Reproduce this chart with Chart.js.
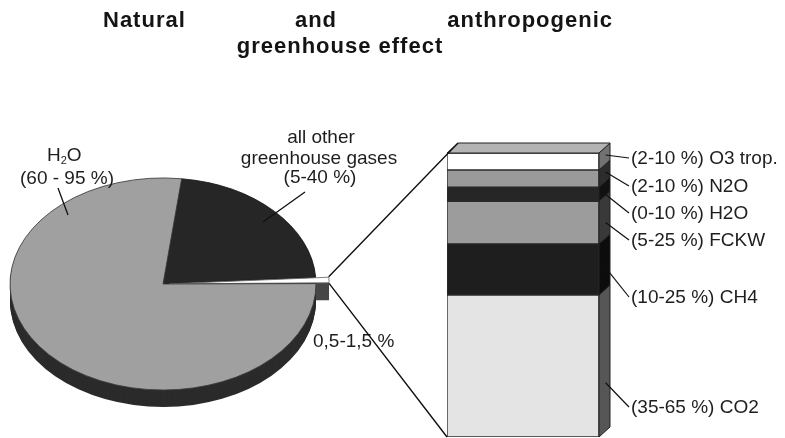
<!DOCTYPE html>
<html>
<head>
<meta charset="utf-8">
<script src="https://cdn.jsdelivr.net/npm/chart.js@4.4.1/dist/chart.umd.min.js"></script>
<style>
  html, body { margin: 0; padding: 0; background: #ffffff; }
  #wrap { position: relative; width: 785px; height: 438px; overflow: hidden; background: #ffffff; }
  #wrap canvas { position: absolute; left: 0; top: 0; }
</style>
</head>
<body>
<div id="wrap">
  <canvas id="pie" width="785" height="438"></canvas>
  <canvas id="bar" width="785" height="438"></canvas>
</div>
<script>
// Greenhouse effect: natural vs. anthropogenic share, and the split of the anthropogenic part
const pieParts = ['all other greenhouse gases', 'anthropogenic', 'H2O'];
const pieShares = [22, 1, 77];

const gases = ['CO2', 'CH4', 'FCKW', 'H2O', 'N2O', 'O3 trop.'];
const gasShares = [50, 18, 15, 5, 6, 6];
const gasRanges = ['35-65 %', '10-25 %', '5-25 %', '0-10 %', '2-10 %', '2-10 %'];

const titleWords = ['Natural', 'and', 'anthropogenic'];
const titleLine2 = 'greenhouse effect';

// ---- styling / layout ----
const FONT = '"Liberation Sans", Arial, Helvetica, sans-serif';
const INK = '#1e1e1e';

const pieCenter = { x: 163, y: 284 };
const pieRadius = 153;
const squash = 0.693;          // vertical flattening of the disc
const pieDepth = 17;           // thickness of the disc wall
const pieTopColors = ['#262626', '#ffffff', '#a0a0a0'];
const pieEdgeColors = ['#1a1a1a', '#6a6a6a', '#3a3a3a'];
const pieSideColors = ['#222222', '#474747', '#2b2b2b'];

const barFront = ['#e4e4e4', '#1e1e1e', '#9c9c9c', '#262626', '#9a9a9a', '#ffffff'];
const barSide = ['#565656', '#0c0c0c', '#393939', '#111111', '#2c2c2c', '#727272'];
const barTopFace = '#b4b4b4';
const depthX = 11, depthY = 10;
const labelY = [407, 297, 240, 213, 186, 158];
const leaderAt = [0.66, 0.58, 0.64, 0.95, 0.47, 0.47];
const labelX = 631;

// translation applied by ArcElement for an exploded slice
function explodeShift(arc) {
  const p = arc.getProps(['startAngle', 'endAngle'], true);
  const off = (arc.options.offset || 0) / 4;
  const half = (p.startAngle + p.endAngle) / 2;
  const fix = 1 - Math.sin(Math.min(Math.PI, p.endAngle - p.startAngle));
  const total = off * (1 + fix);
  return { x: Math.cos(half) * total, y: Math.sin(half) * total };
}

function squashAround(ctx, cy, dy) {
  ctx.translate(0, cy + dy);
  ctx.scale(1, squash);
  ctx.translate(0, -cy);
}

const pie3d = {
  id: 'pie3d',
  beforeDatasetsDraw(chart) {
    const ctx = chart.ctx;
    const arcs = chart.getDatasetMeta(0).data;
    const cy = arcs[0].y;
    // disc wall: every sector repeated downward in the wall colour
    for (let d = pieDepth; d >= 1; d--) {
      arcs.forEach((arc, i) => {
        const p = arc.getProps(['x', 'y', 'startAngle', 'endAngle', 'outerRadius'], true);
        const s = explodeShift(arc);
        ctx.save();
        squashAround(ctx, cy, d);
        ctx.beginPath();
        ctx.moveTo(p.x + s.x, p.y + s.y);
        ctx.arc(p.x + s.x, p.y + s.y, p.outerRadius, p.startAngle, p.endAngle);
        ctx.closePath();
        ctx.fillStyle = pieSideColors[i];
        ctx.fill();
        ctx.restore();
      });
    }
    ctx.save();
    squashAround(ctx, cy, 0);
  },
  afterDatasetsDraw(chart) {
    const ctx = chart.ctx;
    ctx.restore();

    ctx.save();
    ctx.fillStyle = '#141414';
    ctx.textBaseline = 'alphabetic';
    ctx.font = 'bold 22px ' + FONT;
    ctx.letterSpacing = '1px';
    ctx.textAlign = 'left';
    ctx.fillText(titleWords[0], 103, 27);
    ctx.textAlign = 'center';
    ctx.fillText(titleWords[1], 316, 27);
    ctx.textAlign = 'right';
    ctx.fillText(titleWords[2], 613, 27);
    ctx.textAlign = 'center';
    ctx.fillText(titleLine2, 340, 53);
    ctx.letterSpacing = '0px';

    // slice labels
    ctx.fillStyle = INK;
    ctx.font = '19px ' + FONT;
    ctx.textAlign = 'left';
    ctx.fillText('H', 47, 161);
    const hw = ctx.measureText('H').width;
    ctx.font = '11px ' + FONT;
    ctx.fillText('2', 47 + hw, 164);
    const sw = ctx.measureText('2').width;
    ctx.font = '19px ' + FONT;
    ctx.fillText('O', 47 + hw + sw, 161);
    ctx.fillText('(60 - 95 %)', 20, 184);

    ctx.textAlign = 'center';
    ctx.fillText('all other', 321, 143);
    ctx.fillText('greenhouse gases', 319, 164);
    ctx.fillText('(5-40 %)', 320, 183);

    ctx.textAlign = 'left';
    ctx.fillText('0,5-1,5 %', 313, 347);

    // leader lines into the slices
    ctx.strokeStyle = '#111111';
    ctx.lineWidth = 1.3;
    ctx.beginPath();
    ctx.moveTo(58, 188); ctx.lineTo(68, 215);
    ctx.moveTo(305, 192); ctx.lineTo(263, 222);
    ctx.stroke();
    ctx.restore();
  }
};

const pieChart = new Chart(document.getElementById('pie'), {
  type: 'pie',
  data: {
    labels: pieParts,
    datasets: [{
      data: pieShares,
      backgroundColor: pieTopColors,
      borderColor: pieEdgeColors,
      borderWidth: 1,
      offset: [0, 27, 0],
      radius: pieRadius,
      clip: false
    }]
  },
  options: {
    responsive: false,
    animation: false,
    events: [],
    rotation: 7,
    layout: { padding: { left: 0, right: 785 - 2 * pieCenter.x, top: 2 * pieCenter.y - 438, bottom: 0 } },
    plugins: { legend: { display: false }, tooltip: { enabled: false }, title: { display: false } }
  },
  plugins: [pie3d]
});

const bar3d = {
  id: 'bar3d',
  afterDatasetsDraw(chart) {
    const ctx = chart.ctx;
    const n = chart.data.datasets.length;
    const els = [];
    for (let i = 0; i < n; i++) {
      els.push(chart.getDatasetMeta(i).data[0].getProps(['x', 'y', 'base', 'width'], true));
    }
    ctx.save();
    ctx.strokeStyle = '#222222';
    ctx.lineWidth = 1;
    // side faces
    els.forEach((e, i) => {
      const right = e.x + e.width / 2;
      ctx.beginPath();
      ctx.moveTo(right, e.y);
      ctx.lineTo(right + depthX, e.y - depthY);
      ctx.lineTo(right + depthX, e.base - depthY);
      ctx.lineTo(right, e.base);
      ctx.closePath();
      ctx.fillStyle = barSide[i];
      ctx.fill();
      ctx.stroke();
    });
    // top face
    const t = els[n - 1];
    const tl = t.x - t.width / 2, tr = t.x + t.width / 2;
    ctx.beginPath();
    ctx.moveTo(tl, t.y);
    ctx.lineTo(tl + depthX, t.y - depthY);
    ctx.lineTo(tr + depthX, t.y - depthY);
    ctx.lineTo(tr, t.y);
    ctx.closePath();
    ctx.fillStyle = barTopFace;
    ctx.fill();
    ctx.stroke();

    // leaders and labels
    ctx.strokeStyle = '#111111';
    ctx.lineWidth = 1.2;
    ctx.fillStyle = INK;
    ctx.font = '19px ' + FONT;
    ctx.textAlign = 'left';
    ctx.textBaseline = 'middle';
    els.forEach((e, i) => {
      const right = e.x + e.width / 2;
      const ax = right + depthX * 0.6;
      const ay = e.y + leaderAt[i] * (e.base - e.y) - depthY * 0.6;
      ctx.beginPath();
      ctx.moveTo(ax, ay);
      ctx.lineTo(labelX - 2, labelY[i]);
      ctx.stroke();
      ctx.fillText('(' + gasRanges[i] + ') ' + gases[i], labelX, labelY[i] + 1);
    });

    // connectors from the exploded slice to the column
    const arc = pieChart.getDatasetMeta(0).data[1];
    const p = arc.getProps(['x', 'y', 'startAngle', 'endAngle', 'outerRadius'], true);
    const s = explodeShift(arc);
    const cy = p.y;
    const tip = (a) => ({
      x: p.x + s.x + p.outerRadius * Math.cos(a),
      y: cy + (p.y + s.y + p.outerRadius * Math.sin(a) - cy) * squash
    });
    const up = tip(p.startAngle), lo = tip(p.endAngle);
    const b = els[0];
    ctx.lineWidth = 1.4;
    ctx.beginPath();
    ctx.moveTo(up.x, up.y);
    ctx.lineTo(tl + depthX, t.y - depthY);
    ctx.moveTo(lo.x, lo.y);
    ctx.lineTo(b.x - b.width / 2, b.base);
    ctx.stroke();
    ctx.restore();
  }
};

new Chart(document.getElementById('bar'), {
  type: 'bar',
  data: {
    labels: ['anthropogenic'],
    datasets: gases.map((g, i) => ({
      label: g,
      data: [gasShares[i]],
      backgroundColor: barFront[i],
      borderColor: '#2a2a2a',
      borderWidth: 1,
      borderSkipped: false,
      barPercentage: 1,
      categoryPercentage: 1
    }))
  },
  options: {
    responsive: false,
    animation: false,
    events: [],
    layout: { padding: { left: 447, right: 186, top: 153, bottom: 1 } },
    scales: {
      x: { stacked: true, display: false },
      y: { stacked: true, display: false, min: 0, max: 100 }
    },
    plugins: { legend: { display: false }, tooltip: { enabled: false }, title: { display: false } }
  },
  plugins: [bar3d]
});
</script>
</body>
</html>
